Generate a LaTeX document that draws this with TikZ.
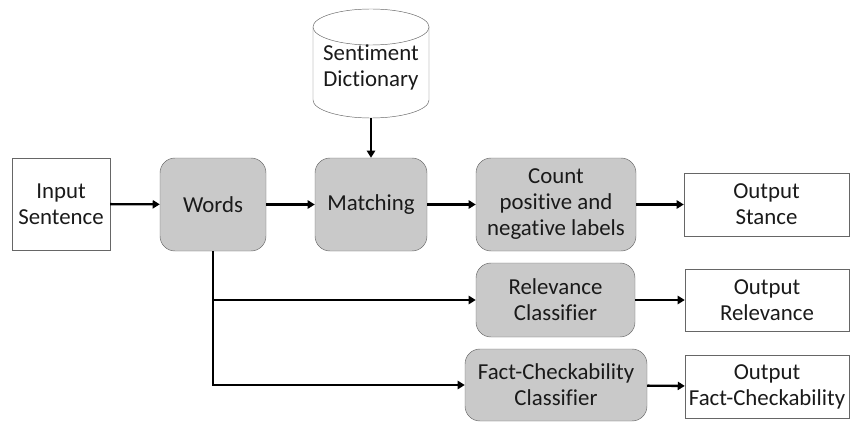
\documentclass[tikz,border=0pt]{standalone}
\usepackage{fontspec}
\setmainfont{Carlito}[Ligatures=NoCommon]
\usetikzlibrary{shapes.geometric,positioning,arrows.meta}
\definecolor{boxgray}{HTML}{C9C9C9}
\definecolor{edgecol}{HTML}{666666}
\definecolor{inkcol}{HTML}{1A1A1A}

\begin{document}
\begin{tikzpicture}[
  proc/.style={draw=edgecol,fill=boxgray,rounded corners=0.45cm,align=center,inner sep=0pt,text=inkcol,font=\fontsize{19.5}{22.2}\selectfont},
  plain/.style={draw=edgecol,fill=white,align=center,inner sep=0pt,text=inkcol,font=\fontsize{19.5}{22.2}\selectfont},
  label/.style={align=center,inner sep=0pt,text=inkcol,font=\fontsize{19.5}{22.2}\selectfont},
  link/.style={line width=2pt,-{Triangle[length=6pt,width=7pt]}}]
  \useasboundingbox (0,0) rectangle (25.53,12.66);
  % dictionary drum
  \draw[draw=edgecol,fill=white] (9.39,11.85) -- (9.39,9.66)
    arc[start angle=180,end angle=360,x radius=1.74,y radius=0.54] -- (12.87,11.85);
  \draw[draw=edgecol,fill=white] (11.13,11.85) ellipse[x radius=1.74,y radius=0.54];
  \node[label] (dict) at (11.13,10.635) {Sentiment\\Dictionary};
  \coordinate (dictbase) at (11.13,9.12);
  % main row
  \node[plain,minimum width=2.94cm,minimum height=2.76cm] (input) at (1.83,6.54) {Input\\Sentence};
  \node[proc,minimum width=3.18cm,minimum height=2.79cm] (words) at (6.39,6.525) {Words};
  \node[proc,minimum width=3.36cm,minimum height=2.79cm] (match) at (11.13,6.525) {Matching};
  \node[proc,minimum width=4.8cm,minimum height=2.79cm] (count) at (16.68,6.525) {Count\\positive and\\negative labels};
  \node[plain,minimum width=4.95cm,minimum height=1.89cm] (stance) at (22.995,6.525) {Output\\Stance};
  % classifiers
  \node[proc,minimum width=4.77cm,minimum height=2.22cm] (rel) at (16.665,3.66) {Relevance\\Classifier};
  \node[plain,minimum width=4.92cm,minimum height=1.86cm] (outrel) at (23.01,3.66) {Output\\Relevance};
  \node[proc,minimum width=5.46cm,minimum height=2.16cm] (fact) at (16.68,1.11) {Fact-Checkability\\Classifier};
  \node[plain,minimum width=4.92cm,minimum height=1.89cm] (outfact) at (23.01,1.065) {Output\\Fact-Checkability};
  % connectors
  \draw[link] (input) -- (words);
  \draw[link] (words) -- (match);
  \draw[link] (match) -- (count);
  \draw[link] (count) -- (stance);
  \draw[link] (dictbase) -- (match);
  \draw[link] (words.south) |- (rel.west);
  \draw[link] (words.south) |- (fact.west);
  \draw[link] (rel) -- (outrel);
  \draw[link] (fact) -- (outfact);
\end{tikzpicture}
\end{document}
